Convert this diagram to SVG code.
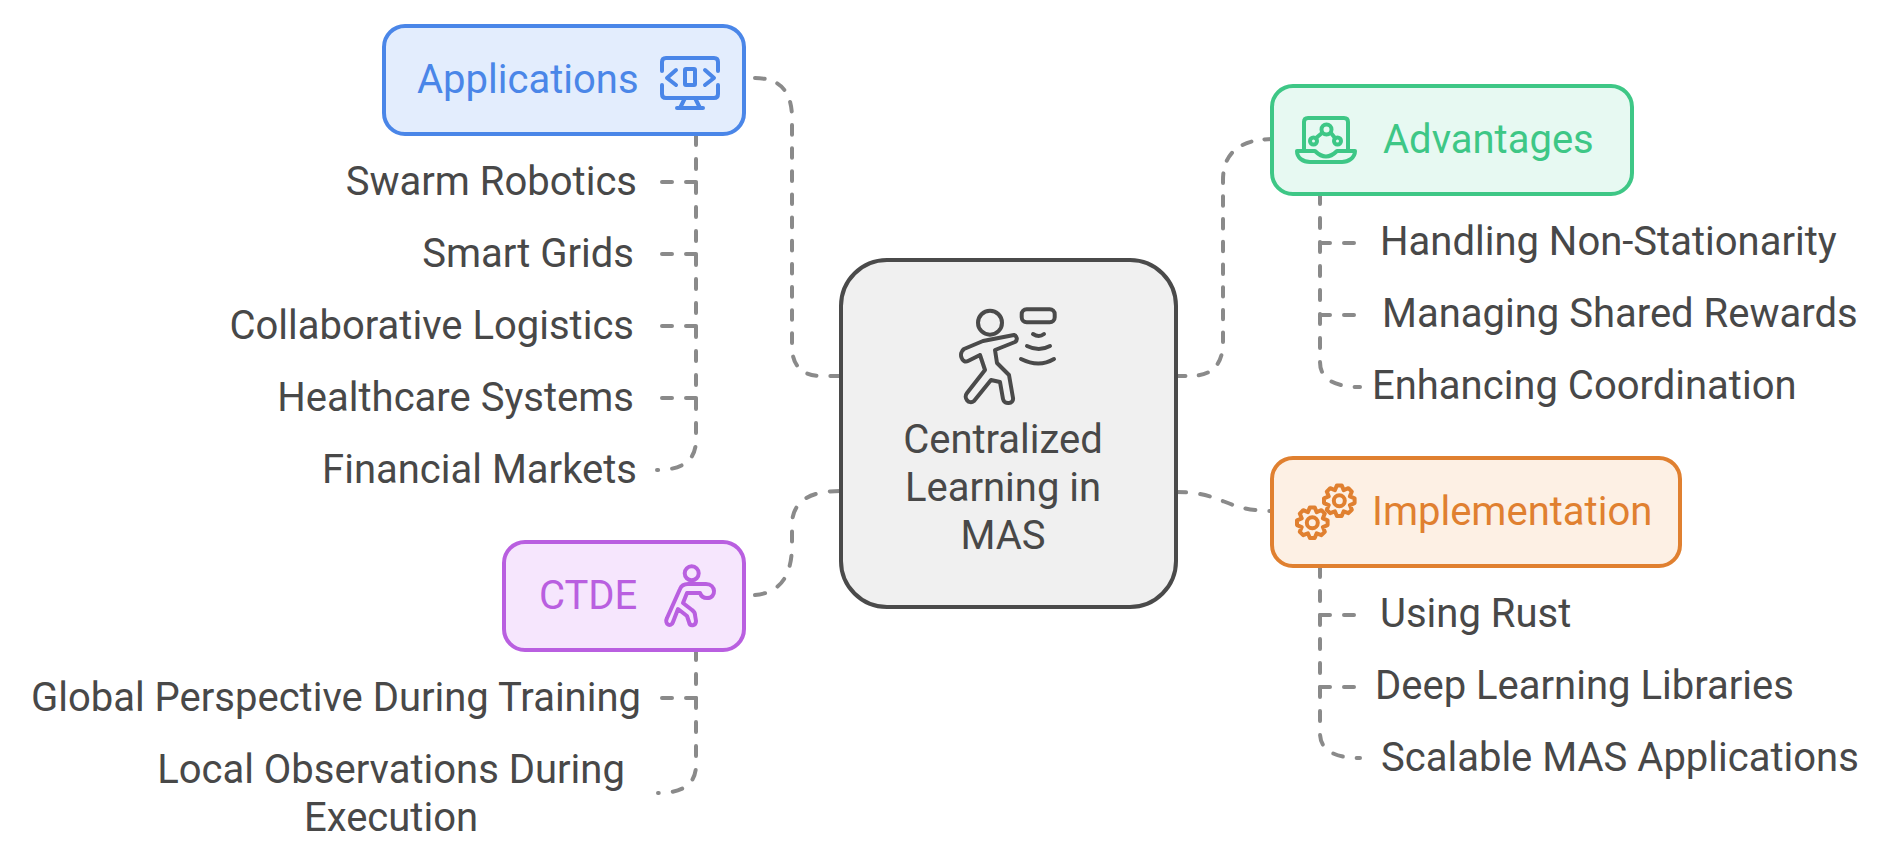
<svg xmlns="http://www.w3.org/2000/svg" width="1896" height="866" viewBox="0 0 1896 866">
<style>
text{font-family:Roboto,"Liberation Sans",sans-serif;font-size:40px;fill:#484848}
.l{text-anchor:start}.r{text-anchor:end}.m{text-anchor:middle}
.c{fill:none;stroke:#8a8a8a;stroke-width:4;stroke-dasharray:10 14;stroke-linecap:round;stroke-linejoin:round}
.n{stroke-width:4}
.i{fill:none;stroke-width:4;stroke-linecap:round;stroke-linejoin:round}
</style>
<defs>
<g id="gear"><path d="M15.3-2.4 15.3 2.4 10.6 4.4 12.5 9.1 9.1 12.5 4.4 10.6 2.4 15.3-2.4 15.3-4.4 10.6-9.1 12.5-12.5 9.1-10.6 4.4-15.3 2.4-15.3-2.4-10.6-4.4-12.5-9.1-9.1-12.5-4.4-10.6-2.4-15.3 2.4-15.3 4.4-10.6 9.1-12.5 12.5-9.1 10.6-4.4Z"/><circle r="5.5"/></g>
</defs>
<rect width="1896" height="866" fill="#fff"/>
<g id="connectors">
<path class="c" pathLength="370" d="M755 78Q792 78 792 118V346Q792 376 822 376H840"/>
<path class="c" pathLength="322" d="M1274 139Q1223 139 1223 180V342Q1223 376 1190 376H1176"/>
<path class="c" d="M1176 492C1224 492 1224 511 1272 511"/>
<path class="c" pathLength="154" d="M755 595Q792 592 792 545V525Q792 491 840 491"/>
<path class="c" d="M696 135V440Q696 470 657 470"/>
<path class="c" d="M696 182H660"/><path class="c" d="M696 254H660"/><path class="c" d="M696 326H660"/><path class="c" d="M696 398H660"/>
<path class="c" d="M1320 194V362Q1320 387 1360 387"/>
<path class="c" d="M1320 243H1356"/><path class="c" d="M1320 315H1356"/>
<path class="c" d="M1320 567V733Q1320 758 1360 758"/>
<path class="c" d="M1320 615H1356"/><path class="c" d="M1320 687H1356"/>
<path class="c" d="M696 650V765Q696 793 658 793"/>
<path class="c" d="M696 698H660"/>
</g>
<g id="center">
<rect class="n" x="841" y="260" width="335" height="347" rx="46" fill="#f0f0f0" stroke="#4a4a4a"/>
<g class="i" stroke="#4a4a4a">
<circle cx="990" cy="322.7" r="12"/>
<rect x="1021.7" y="309.3" width="33" height="13" rx="5"/>
<path d="M1033 334Q1039 338 1044 334M1027 346Q1039 352 1050 346M1021 359Q1039 368 1054 359"/>
<path d="M1014 335C1017 336 1018 340 1015 342L995 350 997 363 1009 375 1013 398C1014 404 1004 405 1003 399L1000 382 991 380 974 401C969 405 963 398 967 393L985 370 980 355 968 361C962 364 958 353 964 349L983 341Z"/>
</g>
<text class="m" x="1003" y="453">Centralized</text>
<text class="m" x="1003" y="501">Learning in</text>
<text class="m" x="1003" y="549">MAS</text>
</g>
<g id="applications">
<rect class="n" x="384" y="26" width="360" height="108" rx="21" fill="#e3edfd" stroke="#4a86e8"/>
<text x="417" y="93" style="fill:#4a86e8">Applications</text>
<g class="i" stroke="#4a86e8">
<path d="M662 71V62Q662 58 666 58H714Q718 58 718 62V71M718 85V94Q718 98 714 98H666Q662 98 662 94V85"/>
<path d="M676 70 667 78 676 85M705 70 714 78 705 85"/>
<rect x="685" y="69" width="10" height="16" rx="1"/>
<path d="M685 98 680 108M695 98 700 108M677 108H703"/>
</g>
</g>
<g id="advantages">
<rect class="n" x="1272" y="86" width="360" height="108" rx="21" fill="#e7f9f2" stroke="#3ec786"/>
<text x="1383" y="153" style="fill:#3ec786">Advantages</text>
<g class="i" stroke="#3ec786">
<path d="M1304 150V122Q1304 118 1308 118H1344Q1348 118 1348 122V150"/>
<circle cx="1326.5" cy="129.5" r="5"/><circle cx="1313.5" cy="141" r="3.5"/><circle cx="1337.5" cy="141" r="3.5"/>
<path d="M1322 133 1316 138M1331 133 1335 138M1297 151H1315Q1326 162 1337 151H1355C1355 158 1348 162 1342 162H1310C1303 162 1297 158 1297 151Z"/>
</g>
</g>
<g id="implementation">
<rect class="n" x="1272" y="458" width="408" height="108" rx="21" fill="#fdf0e4" stroke="#e08030"/>
<text x="1372" y="525" style="fill:#e08030">Implementation</text>
<g class="i" stroke="#e08030">
<use href="#gear" x="1312.3" y="522.7"/>
<use href="#gear" x="1339.3" y="500.7"/>
</g>
</g>
<g id="ctde">
<rect class="n" x="504" y="542" width="240" height="108" rx="21" fill="#f6e6fd" stroke="#b95fe0"/>
<text x="539" y="609" style="fill:#b95fe0">CTDE</text>
<g class="i" stroke="#b95fe0">
<circle cx="691.7" cy="573.3" r="7"/>
<path d="M667 618 680 589Q682 584 688 584H706C716 584 717 598 707 598 703 598 701 596 700 593H687L683 603 692 610Q695 612 695 615L696 621C696 626 690 627 689 622L687 616 678 609 673 622C671 628 664 624 667 618Z"/>
</g>
</g>
<g id="swarm-robotics"><text class="r" x="637" y="195">Swarm Robotics</text></g>
<g id="smart-grids"><text class="r" x="634" y="267">Smart Grids</text></g>
<g id="collaborative-logistics"><text class="r" x="634" y="339">Collaborative Logistics</text></g>
<g id="healthcare-systems"><text class="r" x="634" y="411">Healthcare Systems</text></g>
<g id="financial-markets"><text class="r" x="637" y="483">Financial Markets</text></g>
<g id="global-perspective"><text class="r" x="641" y="711">Global Perspective During Training</text></g>
<g id="local-observations"><text class="m" x="391" y="783">Local Observations During</text><text class="m" x="391" y="831">Execution</text></g>
<g id="handling"><text x="1380" y="255">Handling Non-Stationarity</text></g>
<g id="managing"><text x="1382" y="327">Managing Shared Rewards</text></g>
<g id="enhancing"><text x="1372" y="399">Enhancing Coordination</text></g>
<g id="using-rust"><text x="1380" y="627">Using Rust</text></g>
<g id="deep-learning"><text x="1375" y="699">Deep Learning Libraries</text></g>
<g id="scalable"><text x="1381" y="771">Scalable MAS Applications</text></g>
</svg>
